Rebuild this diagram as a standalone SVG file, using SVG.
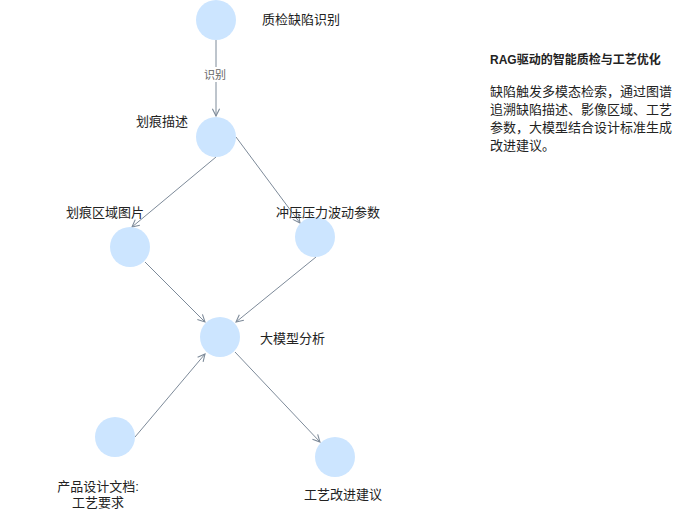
<svg xmlns="http://www.w3.org/2000/svg" width="700" height="511" viewBox="0 0 700 511">
<style>
.n{fill:#cce5ff}
.t{font-family:"Liberation Sans","Noto Sans CJK SC",sans-serif;font-size:13px;fill:#222}
.e{stroke:#7d8a99;stroke-width:1;fill:none;marker-end:url(#a)}
</style>
<defs><marker id="a" viewBox="0 0 10 10" refX="9" refY="5" markerWidth="9" markerHeight="9" orient="auto" markerUnits="userSpaceOnUse"><path d="M1,1 L9,5 L1,9" fill="none" stroke="#7d8a99" stroke-width="1.2"/></marker></defs>
<rect width="700" height="511" fill="#fff"/>
<g id="edges">
<path class="e" d="M216,40 V116"/>
<rect x="202" y="67" width="26" height="15" fill="#fff"/>
<text x="215" y="79" text-anchor="middle" class="t" style="font-size:11px;fill:#666">识别</text>
<path class="e" d="M216,157 L132,227"/>
<path class="e" d="M236,137 L300,223"/>
<path class="e" d="M145,262 L205,322"/>
<path class="e" d="M316,257 L236,322"/>
<path class="e" d="M235,352 L320,442"/>
<path class="e" d="M135,437 L205,354"/>
</g>
<g id="n1"><circle class="n" cx="216" cy="20" r="20"/><text class="t" x="262" y="24">质检缺陷识别</text></g>
<g id="n2"><circle class="n" cx="216" cy="137" r="20"/><text class="t" x="188" y="126" text-anchor="end">划痕描述</text></g>
<g id="n3"><circle class="n" cx="130" cy="247" r="20"/><text class="t" x="105" y="217" text-anchor="middle">划痕区域图片</text></g>
<g id="n4"><circle class="n" cx="315" cy="237" r="20"/><text class="t" x="328" y="217" text-anchor="middle">冲压压力波动参数</text></g>
<g id="n5"><circle class="n" cx="220" cy="337" r="20"/><text class="t" x="260" y="343">大模型分析</text></g>
<g id="n6"><circle class="n" cx="115" cy="437" r="20"/><text class="t" x="98" y="491" text-anchor="middle">产品设计文档:</text><text class="t" x="98" y="507" text-anchor="middle">工艺要求</text></g>
<g id="n7"><circle class="n" cx="335" cy="457" r="20"/><text class="t" x="343" y="499" text-anchor="middle">工艺改进建议</text></g>
<g id="note">
<text class="t" x="490" y="64" style="font-weight:bold;font-size:12px">RAG驱动的智能质检与工艺优化</text>
<text class="t" x="490" y="96">缺陷触发多模态检索，通过图谱</text>
<text class="t" x="490" y="114">追溯缺陷描述、影像区域、工艺</text>
<text class="t" x="490" y="132">参数，大模型结合设计标准生成</text>
<text class="t" x="490" y="150">改进建议。</text>
</g>
</svg>
